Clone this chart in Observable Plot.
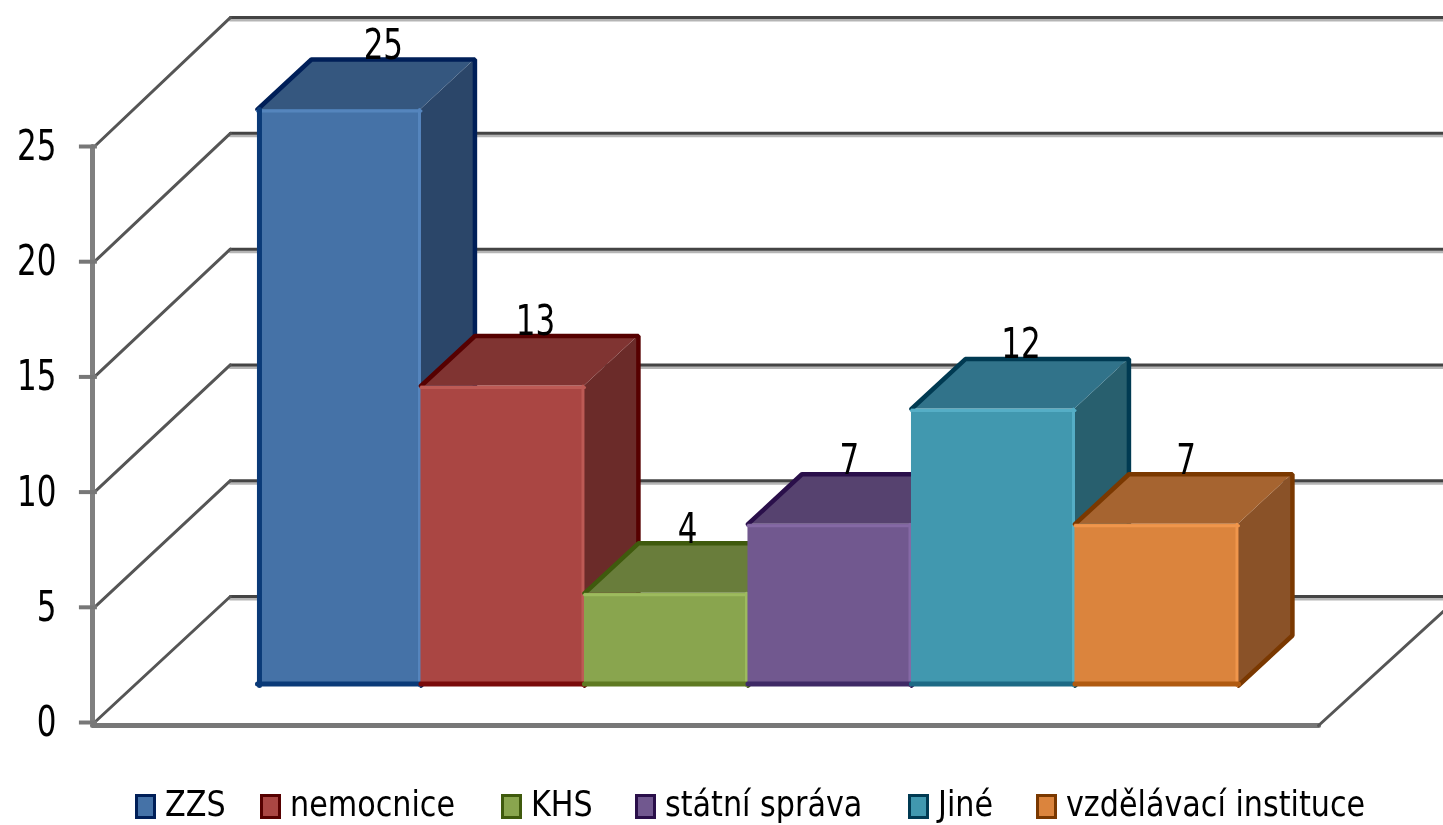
<!DOCTYPE html>
<html>
<head>
<meta charset="utf-8">
<script src="https://cdn.jsdelivr.net/npm/d3@7"></script>
<script src="https://cdn.jsdelivr.net/npm/@observablehq/plot@0.6"></script>
<style>
html,body{margin:0;padding:0;background:#fff;overflow:hidden}
#chart svg{display:block;filter:blur(0.6px)}
#legend{height:55px;position:relative;box-sizing:border-box;
 font-family:"DejaVu Sans Condensed","DejaVu Sans",sans-serif;font-stretch:condensed;font-size:33.6px;color:#000;filter:blur(0.6px);white-space:nowrap}
#legend .item{position:absolute;top:16px;height:39px;display:flex;align-items:center}
#legend .sw{width:15px;height:19px;border:3px solid;margin-right:9px;display:inline-block;flex:none;position:relative;top:1px}
#legend .tx{display:inline-block;line-height:39px;transform:translateY(-1.5px) scale(1,1.06);transform-origin:center}
</style>
</head>
<body>
<div id="chart"></div>
<div id="legend"></div>
<script>
const categories = ["ZZS","nemocnice","KHS","státní správa","Jiné","vzdělávací instituce"];
const values = [25,13,4,7,12,7];
const yTicks = [0,5,10,15,20,25];

const frontColors = ["#4572a7","#aa4643","#89a54e","#71588f","#4198af","#db843d"];
const topColors   = ["#35577f","#803432","#697d3b","#56426f","#31738a","#a66430"];
const sideColors  = ["#2b4669","#6b2b29","#566731","#46365a","#285f6e","#8a5228"];
const edgeColors  = ["#001f58","#560000","#3f5a0d","#2a0f4a","#003a52","#7a3800"];
const baseColors  = ["#0a3a78","#7a0a0a","#5f7a22","#3f2a66","#1d6a85","#b05a10"];
const lightColors = ["#5585bd","#bd5a55","#9dbb5e","#8569a5","#55aec6","#f0964c"];
const labelNudge  = [0.27,0.20,0.13,0.12,0.17,0.18];
const legendLeft  = [135,260,501,635,908,1036];

// projection constants, in data units of the x (bar widths) and y (value) scales
const wallX = -1.009, wallDX = 0.843, wallDY = 5.47, backStretch = 1.005;
const barDX = 0.33, barDY = 2.17, barFloor = 1.606;
const xMax = 7.254, floorEnd = 6.49, floorY = -0.13;
const tickOut = 0.08, tickIn = 0.03;

const W = 1443, H = 770;
const marks = [];

// walls: back-wall gridlines with their light under-edge, and diagonals on the side wall
for (const t of yTicks) {
  const yb = t*backStretch + wallDY;
  const back = [{x:wallX+wallDX,y:yb},{x:xMax,y:yb}];
  marks.push(Plot.line(back,{x:"x",y:"y",stroke:"#b5b5b5",strokeWidth:3,dy:2.5}));
  marks.push(Plot.line(back,{x:"x",y:"y",stroke:"#444",strokeWidth:3}));
  marks.push(Plot.line([{x:wallX+0.012,y:t},{x:wallX+wallDX,y:yb}],{x:"x",y:"y",stroke:"#555",strokeWidth:3}));
}
// front vertical edge
marks.push(Plot.line([{x:wallX,y:0},{x:wallX,y:25}],{x:"x",y:"y",stroke:"#808080",strokeWidth:5}));
// floor
marks.push(Plot.line([{x:wallX,y:floorY},{x:floorEnd,y:floorY}],{x:"x",y:"y",stroke:"#777",strokeWidth:5}));
marks.push(Plot.line([{x:floorEnd,y:floorY},{x:floorEnd+wallDX,y:floorY+wallDY}],{x:"x",y:"y",stroke:"#555",strokeWidth:3,clip:true}));
// tick marks on the front edge
marks.push(Plot.ruleY(yTicks,{x1:wallX-tickOut,x2:wallX+tickIn,stroke:"#777",strokeWidth:4}));

// bars, left to right so each occludes the previous side face
values.forEach((v,i)=>{
  const y0 = barFloor, y1 = barFloor+v, x0 = i, x1 = i+1;
  marks.push(Plot.areaY([{x:x1,y1:y0,y2:y1},{x:x1+barDX,y1:y0+barDY,y2:y1+barDY}],
    {x:"x",y1:"y1",y2:"y2",fill:sideColors[i],curve:"linear"}));
  marks.push(Plot.areaX([{y:y1,x1:x0,x2:x1},{y:y1+barDY,x1:x0+barDX,x2:x1+barDX}],
    {y:"y",x1:"x1",x2:"x2",fill:topColors[i],curve:"linear"}));
  // dark outline of the receding faces only
  marks.push(Plot.line([
    {x:x0,y:y1},{x:x0+barDX,y:y1+barDY},{x:x1+barDX,y:y1+barDY},{x:x1+barDX,y:y0+barDY},{x:x1,y:y0}
  ],{x:"x",y:"y",stroke:edgeColors[i],strokeWidth:4.5,strokeLinejoin:"miter"}));
  marks.push(Plot.rect([{x1:x0,x2:x1,y1:y0,y2:y1}],{x1:"x1",x2:"x2",y1:"y1",y2:"y2",fill:frontColors[i]}));
  // bevels of the front face
  marks.push(Plot.line([{x:x0,y:y1},{x:x1,y:y1}],{x:"x",y:"y",stroke:lightColors[i],strokeWidth:3,dy:1.5}));
  marks.push(Plot.line([{x:x1,y:y1},{x:x1,y:y0}],{x:"x",y:"y",stroke:lightColors[i],strokeWidth:3,dx:-1.5}));
  marks.push(Plot.line([{x:x0,y:y0},{x:x1,y:y0}],{x:"x",y:"y",stroke:baseColors[i],strokeWidth:5,dy:-1.5}));
  if (i===0) marks.push(Plot.line([{x:x0,y:y0},{x:x0,y:y1}],{x:"x",y:"y",stroke:baseColors[i],strokeWidth:5,dx:2}));
});

// value labels
marks.push(Plot.text(values.map((v,i)=>({v,i})),{
  x:d=>d.i+0.5+labelNudge[d.i],
  y:d=>barFloor+d.v+2.78,
  text:d=>String(d.v),
  fontSize:42,
  fill:"#000",
  stroke:"none"
}));

// value axis
marks.push(Plot.axisY(yTicks,{
  anchor:"left",
  tickSize:0,
  tickPadding:36,
  fontSize:42,
  fill:"#000",
  label:null
}));

const plot = Plot.plot({
  width:W,height:H,
  marginLeft:92,marginRight:0,marginTop:0,marginBottom:0,
  style:{fontFamily:'"DejaVu Sans Condensed","DejaVu Sans",sans-serif',fontStretch:"condensed",background:"#fff"},
  x:{type:"linear",domain:[wallX,xMax],axis:null},
  y:{type:"linear",domain:[-2.083,31.337]},
  marks
});
// the reference's digits are narrower than any installed face: squeeze them horizontally
d3.select(plot).selectAll("text").each(function(){
  const t = this.getAttribute("transform") || "";
  this.setAttribute("transform", t + " scale(0.82 1)");
});
document.getElementById("chart").appendChild(plot);

const legend = document.getElementById("legend");
categories.forEach((c,i)=>{
  const item = document.createElement("span"); item.className="item";
  item.style.left = legendLeft[i]+"px";
  const sw = document.createElement("span"); sw.className="sw";
  sw.style.background = frontColors[i]; sw.style.borderColor = edgeColors[i];
  const t = document.createElement("span"); t.className="tx"; t.textContent = c;
  item.append(sw,t); legend.append(item);
});
</script>
</body>
</html>
